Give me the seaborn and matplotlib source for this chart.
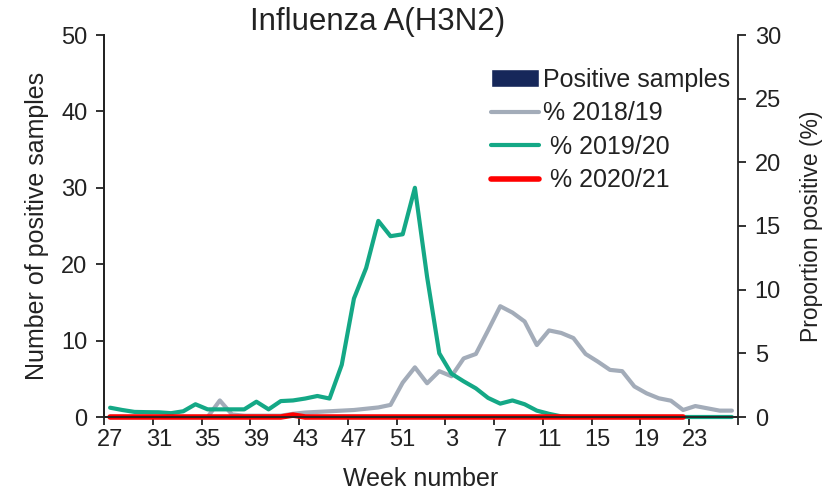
import numpy as np
import pandas as pd
import matplotlib
matplotlib.use('Agg')
import matplotlib.pyplot as plt
import seaborn as sns

# week numbers of the season, week 27 to week 26
weeks = list(range(27, 53)) + list(range(1, 27))

# number of positive samples (left axis) - none this season
positive_samples = [0] * 52

# proportion positive (%) - right axis
pct_2018_19 = [0, 0, 0, 0, 0, 0, 0, 0, 0, 1.3,
               0.2, 0.1, 0.1, 0.1, 0.1, 0.25, 0.35, 0.4, 0.45, 0.5,
               0.55, 0.65, 0.75, 0.95, 2.7, 3.9, 2.65, 3.6, 3.2, 4.6,
               4.95, 6.8, 8.7, 8.2, 7.5, 5.65, 6.8, 6.6, 6.2, 4.95,
               4.35, 3.7, 3.6, 2.4, 1.86, 1.47, 1.28, 0.55, 0.86, 0.68,
               0.5, 0.5]
pct_2019_20 = [0.73, 0.55, 0.4, 0.38, 0.37, 0.3, 0.45, 1.0, 0.6, 0.6,
               0.6, 0.6, 1.2, 0.6, 1.25, 1.3, 1.45, 1.65, 1.45, 4.1,
               9.3, 11.7, 15.4, 14.2, 14.35, 18.0, 11.0, 5.0, 3.4, 2.8,
               2.25, 1.5, 1.05, 1.3, 1.0, 0.5, 0.25, 0.05, 0, 0,
               0, 0, 0, 0, 0, 0, 0, 0, 0, 0,
               0, 0]
pct_2020_21 = [0, 0, 0, 0, 0, 0, 0, 0, 0, 0,
               0, 0, 0, 0, 0, 0.15, 0, 0, 0, 0,
               0, 0, 0, 0, 0, 0, 0, 0, 0, 0,
               0, 0, 0, 0, 0, 0, 0, 0, 0, 0,
               0, 0, 0, 0, 0, 0, 0, 0]

sns.set_style('ticks')
plt.rcParams['font.family'] = ['Liberation Sans', 'DejaVu Sans']
plt.rcParams['axes.linewidth'] = 1.3
plt.rcParams['text.color'] = '#222222'
plt.rcParams['axes.labelcolor'] = '#222222'
plt.rcParams['xtick.color'] = '#222222'
plt.rcParams['ytick.color'] = '#222222'
plt.rcParams['axes.edgecolor'] = '#222222'

fig = plt.figure(figsize=(8.35, 4.95), dpi=100)
ax = fig.add_axes([104 / 835, 1 - 417 / 495, 634 / 835, 382 / 495])
ax2 = ax.twinx()

pos = np.arange(len(weeks))
df_bar = pd.DataFrame({'pos': pos, 'n': positive_samples})
sns.barplot(data=df_bar, x='pos', y='n', color='#0b2265', ax=ax, width=0.6,
            native_scale=True, label='Positive samples', legend=False)

sns.lineplot(x=pos, y=pct_2018_19, ax=ax2, color='#a3acb9', linewidth=3.0, label='% 2018/19')
sns.lineplot(x=pos, y=pct_2019_20, ax=ax2, color='#14a886', linewidth=3.0, label=' % 2019/20')
sns.lineplot(x=pos[:len(pct_2020_21)], y=pct_2020_21, ax=ax2, color='#ff0000',
             linewidth=4.0, label=' % 2020/21')
for ln in ax2.lines:
    ln.set_clip_on(False)

ax.set_xlim(-0.5, len(weeks) - 0.5)
ax.set_ylim(0, 50)
ax2.set_ylim(0, 30)
ax.set_yticks(range(0, 51, 10))
ax2.set_yticks(range(0, 31, 5))

label_idx = pos[::4]
ax.set_xticks(label_idx)
ax.set_xticklabels([str(weeks[i]) for i in label_idx])
ax.set_xticks(list(label_idx - 0.5) + [len(weeks) - 0.5], minor=True)
ax.tick_params(axis='x', which='major', length=0, labelsize=17, pad=9)
ax.tick_params(axis='x', which='minor', length=6, width=1.3, direction='out')
ax.tick_params(axis='y', length=6, width=1.3, labelsize=17, pad=6)
ax2.tick_params(axis='y', length=6, width=1.3, labelsize=17, pad=6)

for a in (ax, ax2):
    a.spines['top'].set_visible(False)
    a.grid(False)
ax.spines['right'].set_visible(False)

ax.set_xlabel('Week number', fontsize=18, labelpad=11)
ax.set_ylabel('Number of positive samples', fontsize=18, labelpad=9)
ax2.set_ylabel('Proportion positive (%)', fontsize=16.5, labelpad=14)

fig.text(378 / 835, 1 - 22 / 495, 'Influenza A(H3N2)', fontsize=22.5, ha='center', va='center')

h1, l1 = ax.get_legend_handles_labels()
h2, l2 = ax2.get_legend_handles_labels()
ax2.legend(h1 + h2, l1 + l2, loc='upper left', bbox_to_anchor=(0.595, 0.94),
           frameon=False, fontsize=18, handlelength=1.92, handletextpad=0.16,
           labelspacing=0.38, borderaxespad=0)

fig.savefig('out.png', dpi=100)
